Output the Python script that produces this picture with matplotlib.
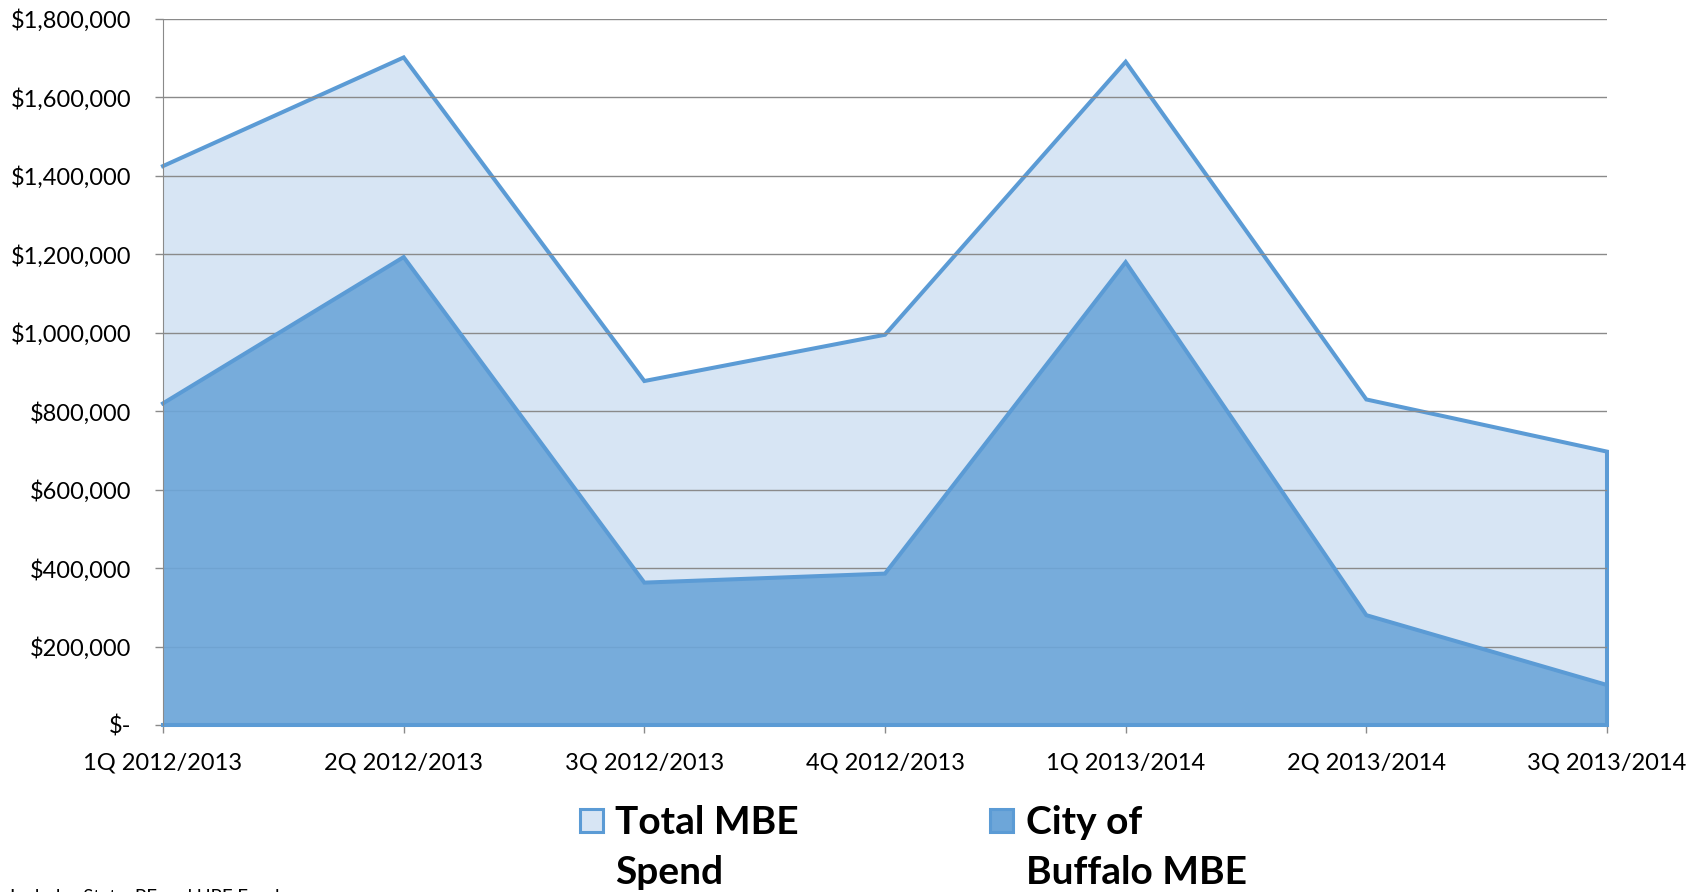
import numpy as np
import matplotlib.pyplot as plt
from matplotlib.patches import Rectangle
from matplotlib.ticker import FuncFormatter, MultipleLocator

plt.rcParams["font.family"] = ["Lato", "DejaVu Sans"]

# ── data ─────────────────────────────────────────────
quarters = ["1Q 2012/2013", "2Q 2012/2013", "3Q 2012/2013", "4Q 2012/2013",
            "1Q 2013/2014", "2Q 2013/2014", "3Q 2013/2014"]
total_mbe = [1425000, 1702000, 877000, 995000, 1691000, 830000, 697000]
city_mbe  = [820000, 1193000, 363000, 386000, 1180000, 280000, 102000]
legend_lines = [["Total MBE", "Spend"], ["City of", "Buffalo MBE"]]
footnote = "Includes State, PF and UPF Funds"

# ── style ────────────────────────────────────────────
EDGE = "#5b9bd5"
LIGHT = "#d7e5f4"
DARK = "#6da6d9"
GRID = "#8a8a8a"
W, H = 1701, 892

fig = plt.figure(figsize=(W / 100, H / 100), dpi=100)
ax = fig.add_axes([163 / W, 1 - 725 / H, (1607 - 163) / W, (725 - 19) / H])

x = np.arange(len(quarters))

# Total (back)
ax.fill_between(x, 0, total_mbe, color=LIGHT, lw=0, zorder=1)
ax.plot(np.r_[x, x[-1]], np.r_[total_mbe, 0], color=EDGE, lw=2.9,
        solid_joinstyle="miter", clip_on=False, zorder=1.5)

# City of Buffalo (front)
ax.fill_between(x, 0, city_mbe, color=DARK, alpha=0.9, lw=0, zorder=3)
ax.plot(np.r_[x, x[-1], x[0]], np.r_[city_mbe, 0, 0], color=EDGE, lw=2.9,
        solid_joinstyle="miter", clip_on=False, zorder=4)

ax.set_xlim(x[0], x[-1])
ax.set_ylim(0, 1800000)
ax.yaxis.set_major_locator(MultipleLocator(200000))
ax.yaxis.set_major_formatter(FuncFormatter(lambda v, p: "$-" if v == 0 else f"${v:,.0f}"))
ax.set_xticks(x)
ax.set_xticklabels(quarters)

ax.set_axisbelow(False)
ax.yaxis.grid(True, color=GRID, lw=1)
ax.xaxis.grid(False)

for s in ["top", "right"]:
    ax.spines[s].set_visible(False)
ax.spines["left"].set_color(GRID)
ax.spines["left"].set_zorder(5)
ax.spines["bottom"].set_color(GRID)
ax.spines["bottom"].set_zorder(0.5)

ax.tick_params(axis="y", length=6, width=1, color=GRID, pad=17, labelsize=17)
ax.tick_params(axis="x", length=6, width=1, color=GRID, pad=14, labelsize=17)

# ── legend (drawn by hand, multi-line labels) ────────
box_x = [580, 990]
txt_x = [615, 1026]
fills = [LIGHT, DARK]
for bx, tx, fc, lines in zip(box_x, txt_x, fills, legend_lines):
    fig.patches.append(Rectangle((bx / W, 1 - 832 / H), 23 / W, 23 / H,
                                 transform=fig.transFigure, facecolor=fc,
                                 edgecolor=EDGE, lw=2.2))
    fig.text(tx / W, 1 - 834 / H, lines[0], fontsize=28, fontweight="bold",
             va="baseline", ha="left")
    fig.text(tx / W, 1 - 884 / H, lines[1], fontsize=28, fontweight="bold",
             va="baseline", ha="left")

fig.text(10 / W, 1 - 902 / H, footnote, fontsize=13.5, va="baseline", ha="left")

fig.savefig("out.png", dpi=100)
